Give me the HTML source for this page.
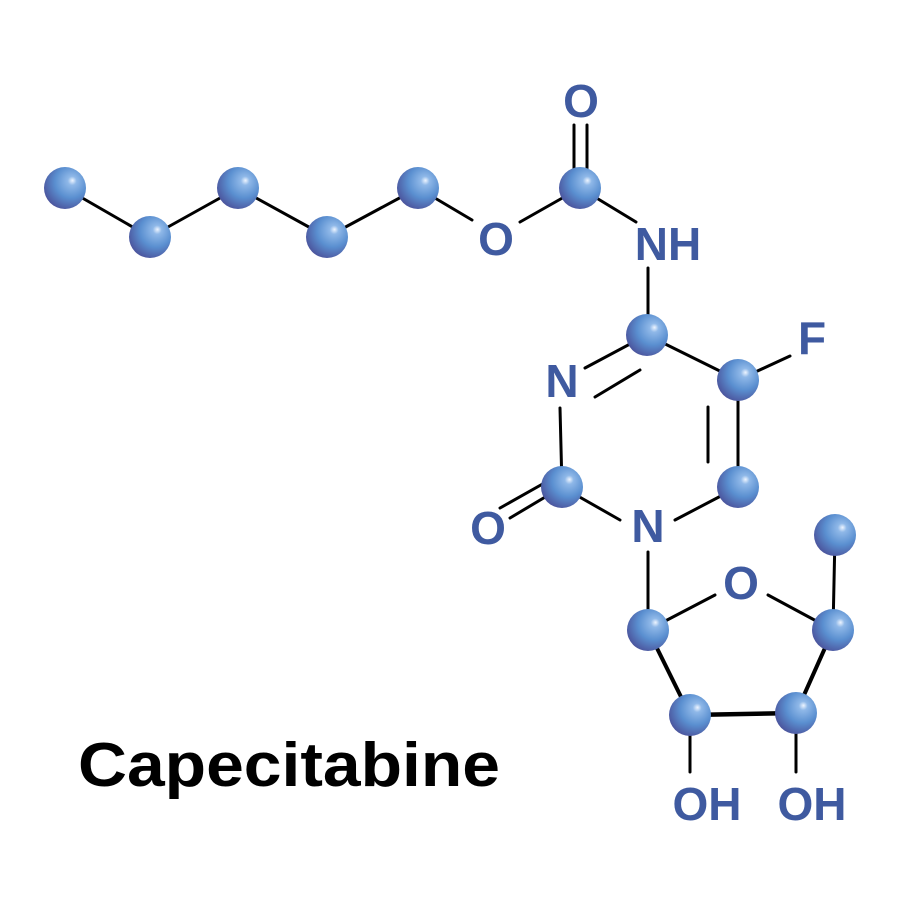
<!DOCTYPE html>
<html><head><style>body{margin:0;background:#fff}</style></head><body>
<svg width="900" height="900" viewBox="0 0 900 900" xmlns="http://www.w3.org/2000/svg">
<defs>
<radialGradient id="g" cx="0.62" cy="0.38" r="0.7" fx="0.68" fy="0.32">
<stop offset="0" stop-color="#eef5ff"/>
<stop offset="0.15" stop-color="#8fb8e8"/>
<stop offset="0.55" stop-color="#5a8fd0"/>
<stop offset="1" stop-color="#4a4f98"/>
</radialGradient>
</defs>
<g stroke="#000" stroke-width="3" fill="none" stroke-linecap="round">
<line x1="65" y1="188" x2="150" y2="237"/>
<line x1="150" y1="237" x2="238" y2="188"/>
<line x1="238" y1="188" x2="327" y2="237"/>
<line x1="327" y1="237" x2="418" y2="188"/>
<line x1="418" y1="188" x2="472" y2="220"/>
<line x1="520" y1="222" x2="580" y2="188"/>
<line x1="574" y1="125" x2="574" y2="180"/>
<line x1="587" y1="125" x2="587" y2="180"/>
<line x1="580" y1="188" x2="636" y2="222"/>
<line x1="648" y1="268" x2="648" y2="320"/>
<line x1="647" y1="335" x2="585" y2="368"/>
<line x1="640" y1="370" x2="595" y2="397"/>
<line x1="647" y1="335" x2="738" y2="380"/>
<line x1="738" y1="380" x2="790" y2="356"/>
<line x1="738" y1="380" x2="738" y2="487"/>
<line x1="708" y1="407" x2="708" y2="462"/>
<line x1="738" y1="487" x2="675" y2="520"/>
<line x1="560" y1="408" x2="562" y2="487"/>
<line x1="562" y1="487" x2="620" y2="520"/>
<line x1="562" y1="487" x2="510" y2="518"/>
<line x1="555" y1="477" x2="500" y2="508"/>
<line x1="648" y1="552" x2="648" y2="630"/>
<line x1="648" y1="630" x2="715" y2="595"/>
<line x1="768" y1="595" x2="833" y2="630"/>
<line x1="833" y1="630" x2="835" y2="535"/>
<line x1="833" y1="630" x2="796" y2="713" stroke-width="4"/>
<line x1="796" y1="713" x2="690" y2="715" stroke-width="4.5"/>
<line x1="690" y1="715" x2="648" y2="630" stroke-width="4"/>
<line x1="690" y1="715" x2="690" y2="772"/>
<line x1="796" y1="713" x2="796" y2="772"/>
</g>
<g fill="url(#g)">
<circle cx="65" cy="188" r="21"/>
<circle cx="150" cy="237" r="21"/>
<circle cx="238" cy="188" r="21"/>
<circle cx="327" cy="237" r="21"/>
<circle cx="418" cy="188" r="21"/>
<circle cx="580" cy="188" r="21"/>
<circle cx="647" cy="335" r="21"/>
<circle cx="738" cy="380" r="21"/>
<circle cx="738" cy="487" r="21"/>
<circle cx="562" cy="487" r="21"/>
<circle cx="648" cy="630" r="21"/>
<circle cx="833" cy="630" r="21"/>
<circle cx="835" cy="535" r="21"/>
<circle cx="796" cy="713" r="21"/>
<circle cx="690" cy="715" r="21"/>
</g>
<g fill="#3f5aa0" font-family="Liberation Sans, sans-serif" font-weight="bold" font-size="46" text-anchor="middle">
<text x="581" y="117">O</text>
<text x="496" y="255">O</text>
<text x="668" y="260">NH</text>
<text x="562" y="397">N</text>
<text x="812" y="354">F</text>
<text x="488" y="544">O</text>
<text x="648" y="542">N</text>
<text x="741" y="599">O</text>
<text x="707" y="820">OH</text>
<text x="812" y="820">OH</text>
</g>
<text x="78" y="786" font-family="Liberation Sans, sans-serif" font-weight="bold" font-size="62" textLength="422" lengthAdjust="spacingAndGlyphs" fill="#000">Capecitabine</text>
</svg>
</body></html>
